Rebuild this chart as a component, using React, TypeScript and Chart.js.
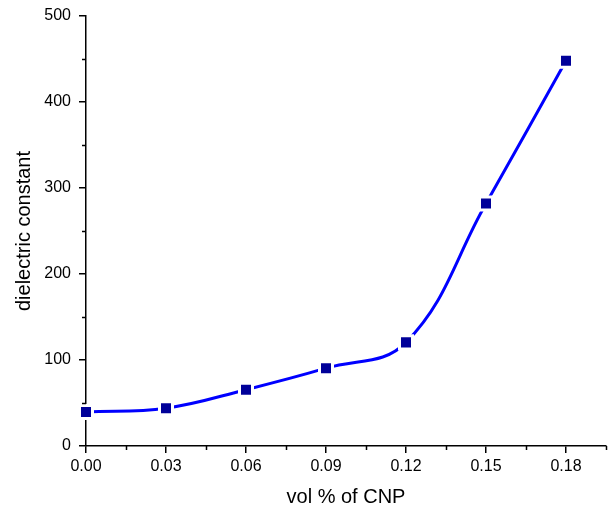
import React, { useEffect, useRef } from "react";
import { Chart, registerables } from "chart.js";

Chart.register(...registerables);

const volPercent = [0.0, 0.03, 0.06, 0.09, 0.12, 0.15, 0.18];
const dielectricConstant = [39.5, 44, 65.5, 90.5, 120.5, 282, 448];
const xTickValues = [0.0, 0.03, 0.06, 0.09, 0.12, 0.15, 0.18];
const xMinorValues = [0.015, 0.045, 0.075, 0.105, 0.135, 0.165, 0.195];
const yTickValues = [0, 100, 200, 300, 400, 500];
const yMinorValues = [50, 150, 250, 350, 450];

const FONT = "'Liberation Sans', Arial, sans-serif";

const minorTicks = {
  id: "minorTicks",
  afterDraw(chart: any) {
    const ctx = chart.ctx;
    const xs = chart.scales.x;
    const ys = chart.scales.y;
    ctx.save();
    ctx.strokeStyle = "#000";
    ctx.lineWidth = 1.5;
    ctx.beginPath();
    for (const v of xMinorValues) {
      const px = Math.round(xs.getPixelForValue(v)) + 0.5;
      ctx.moveTo(px, xs.top);
      ctx.lineTo(px, xs.top + 4);
    }
    for (const v of yMinorValues) {
      const py = Math.round(ys.getPixelForValue(v)) + 0.5;
      ctx.moveTo(ys.right, py);
      ctx.lineTo(ys.right - 4, py);
    }
    ctx.stroke();
    ctx.restore();
  },
};

export default function App() {
  const ref = useRef<HTMLCanvasElement | null>(null);
  useEffect(() => {
    document.body.style.margin = "0";
    const chart = new Chart(ref.current!, {
      type: "line",
      data: {
        datasets: [
          {
            data: volPercent.map((x, i) => ({ x, y: dielectricConstant[i] })),
            borderColor: "#0000FF",
            borderWidth: 3,
            tension: 0.4,
            pointStyle: "rect",
            pointRadius: 9.2,
            pointBackgroundColor: "#000099",
            pointBorderColor: "#FFFFFF",
            pointBorderWidth: 3,
            fill: false,
            clip: false,
          },
        ],
      },
      options: {
        animation: false,
        responsive: false,
        maintainAspectRatio: false,
        layout: { autoPadding: false, padding: { top: 16, right: 3, left: 0, bottom: 0 } },
        plugins: { legend: { display: false }, tooltip: { enabled: false } },
        scales: {
          x: {
            type: "linear",
            min: 0,
            max: 0.195,
            afterBuildTicks: (s: any) => {
              s.ticks = xTickValues.map((v) => ({ value: v }));
            },
            afterFit: (s: any) => {
              s.height = 64;
              s.paddingLeft = 0;
              s.paddingRight = 0;
            },
            ticks: {
              color: "#000",
              font: { family: FONT, size: 16 },
              padding: 4,
              maxRotation: 0,
              callback: (v: any) => Number(v).toFixed(2),
            },
            grid: { drawOnChartArea: false, drawTicks: true, tickLength: 7, color: "#000", lineWidth: 1.5 },
            border: { display: true, color: "#000", width: 1.5 },
            title: {
              display: true,
              text: "vol % of CNP",
              color: "#000",
              font: { family: FONT, size: 20 },
              padding: { top: 0, bottom: 1 },
            },
          },
          y: {
            type: "linear",
            min: 0,
            max: 500,
            afterBuildTicks: (s: any) => {
              s.ticks = yTickValues.map((v) => ({ value: v }));
            },
            afterFit: (s: any) => {
              s.width = 86;
              s.paddingTop = 0;
              s.paddingBottom = 0;
            },
            ticks: {
              color: "#000",
              font: { family: FONT, size: 16 },
              padding: 8,
            },
            grid: { drawOnChartArea: false, drawTicks: true, tickLength: 7, color: "#000", lineWidth: 1.5 },
            border: { display: true, color: "#000", width: 1.5 },
            title: {
              display: true,
              text: "dielectric constant",
              color: "#000",
              font: { family: FONT, size: 20 },
              padding: { top: 12, bottom: 0 },
            },
          },
        },
      },
      plugins: [minorTicks],
    });
    return () => chart.destroy();
  }, []);
  return <canvas ref={ref} width={609} height={510} style={{ display: "block" }} />;
}
